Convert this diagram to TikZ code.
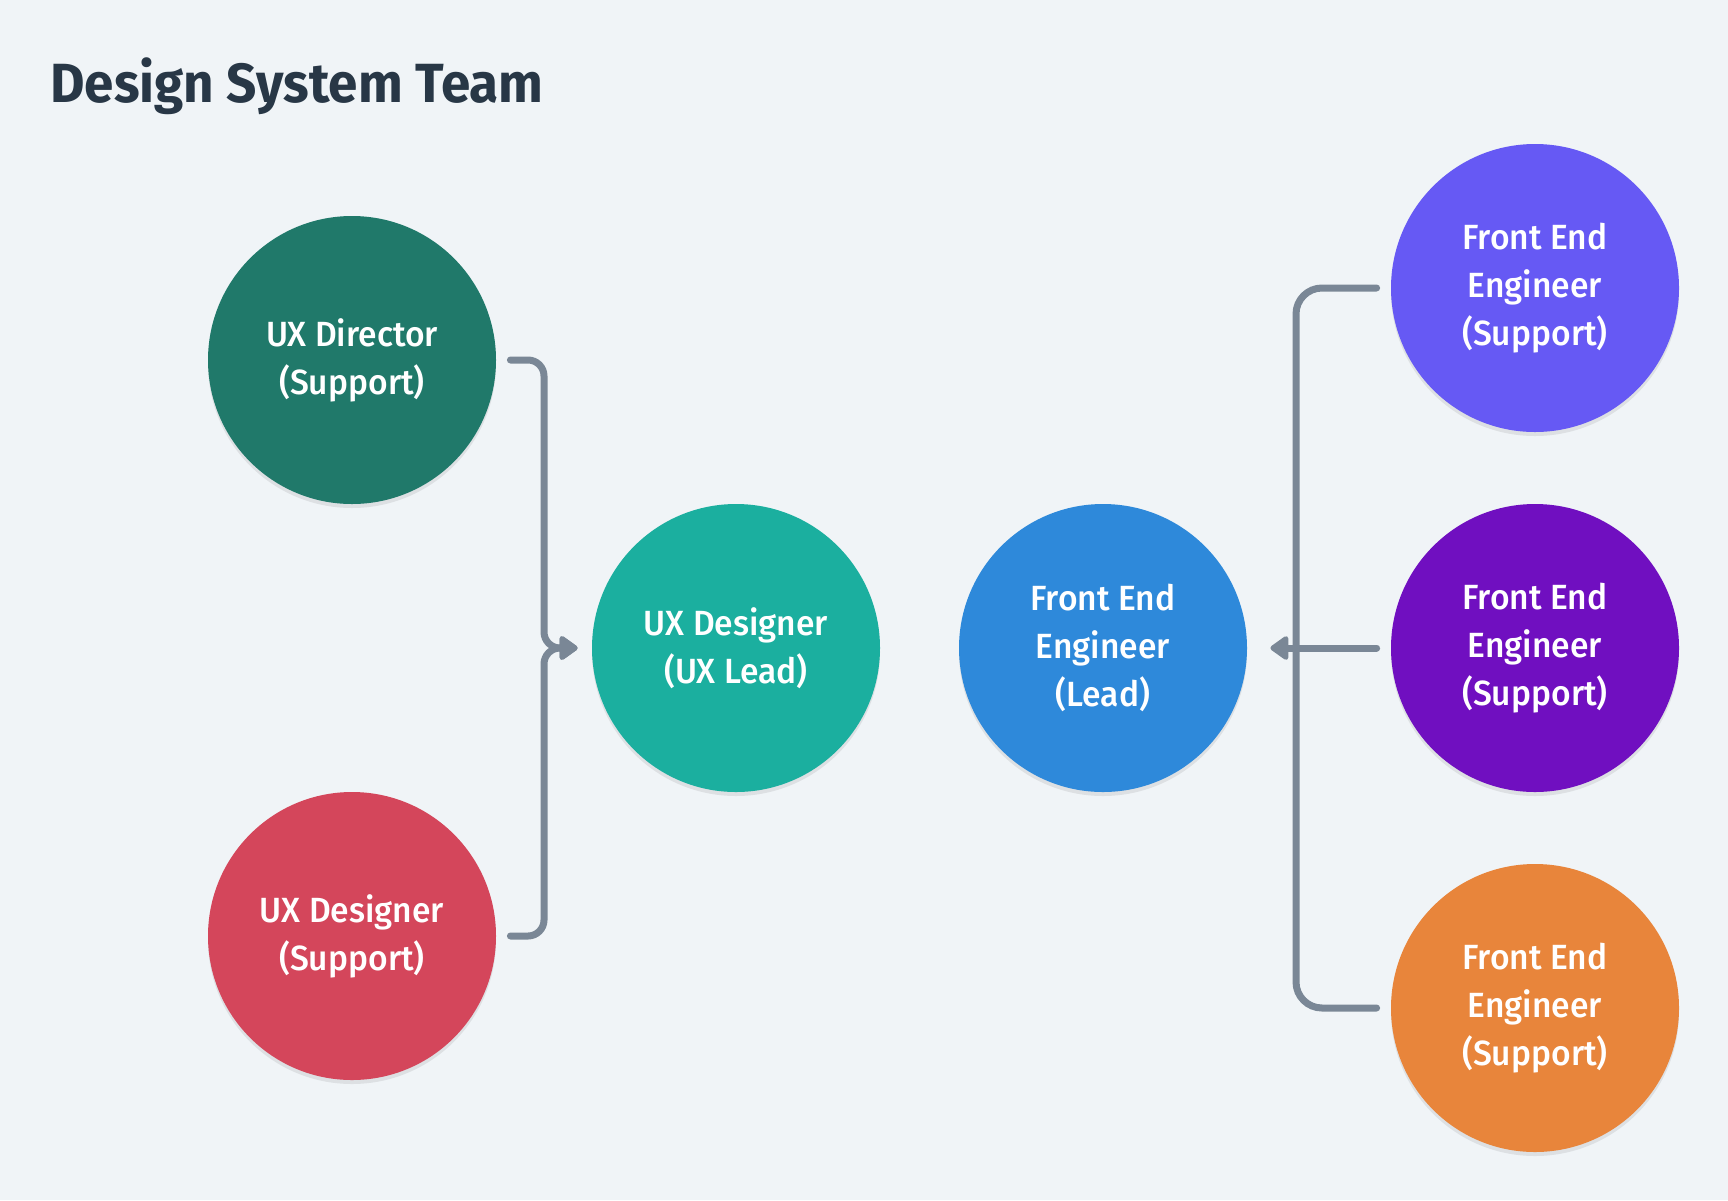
\documentclass[tikz,border=0pt]{standalone}
\usepackage{fontspec}
\setmainfont{Fira Sans}[UprightFont={* Medium}, BoldFont={* Bold}, FakeStretch=0.96]
\usepackage{xcolor}
\usetikzlibrary{arrows.meta,shadows}

\definecolor{pagebg}{HTML}{F0F4F7}
\definecolor{titleink}{HTML}{283746}
\definecolor{linkgray}{HTML}{7A8796}
\definecolor{dirgreen}{HTML}{20796A}
\definecolor{desred}{HTML}{D4465B}
\definecolor{leadteal}{HTML}{1BAF9F}
\definecolor{leadblue}{HTML}{2E89DA}
\definecolor{supindigo}{HTML}{6659F4}
\definecolor{suppurple}{HTML}{700FC0}
\definecolor{suporange}{HTML}{E8853B}

\begin{document}
\begin{tikzpicture}[x=0.5pt, y=-0.5pt,
    member/.style={circle, minimum size=144pt, inner sep=0pt, text=white, align=center,
        font=\fontsize{17.5}{24}\selectfont,
        drop shadow={shadow xshift=0pt, shadow yshift=-2pt, opacity=0.08, fill=black}},
    link/.style={draw=linkgray, line width=3.5pt, line cap=round, rounded corners=8pt},
    tip/.style={-{Triangle[length=10pt, width=13.5pt, round]}}]
    % Background and frame
    \fill[pagebg] (0,0) rectangle (1728,1200);
    \useasboundingbox (0,0) rectangle (1728,1200);

    % Title
    \node[anchor=base west, inner sep=0pt, text=titleink, font=\fontsize{27.6}{30}\selectfont\bfseries]
        (title) at (50,102) {Design System Team};

    % UX side
    \node[member, fill=dirgreen] (uxdir) at (352,360) {UX Director\\(Support)};
    \node[member, fill=desred] (uxsup) at (352,936) {UX Designer\\(Support)};
    \node[member, fill=leadteal] (uxlead) at (736,648) {UX Designer\\(UX Lead)};

    % Front end side
    \node[member, fill=leadblue] (felead) at (1103,648) {Front End\\Engineer\\(Lead)};
    \node[member, fill=supindigo] (fetop) at (1535,288) {Front End\\Engineer\\(Support)};
    \node[member, fill=suppurple] (femid) at (1535,648) {Front End\\Engineer\\(Support)};
    \node[member, fill=suporange] (febot) at (1535,1008) {Front End\\Engineer\\(Support)};

    % Brackets into the UX lead
    \coordinate (ljoin) at (544,648);
    \draw[link, tip] ([xshift=7pt]uxdir.east) -| (ljoin) -- ([xshift=-7pt]uxlead.west);
    \draw[link, tip] ([xshift=7pt]uxsup.east) -| (ljoin) -- ([xshift=-7pt]uxlead.west);

    % Brackets into the front end lead
    \coordinate (rjoin) at (1296,648);
    \draw[link, rounded corners=13pt] ([xshift=-7pt]fetop.west) -| (rjoin);
    \draw[link, rounded corners=13pt] ([xshift=-7pt]febot.west) -| (rjoin);
    \draw[link, tip] ([xshift=-7pt]femid.west) -- ([xshift=11.5pt]felead.east);
\end{tikzpicture}
\end{document}
